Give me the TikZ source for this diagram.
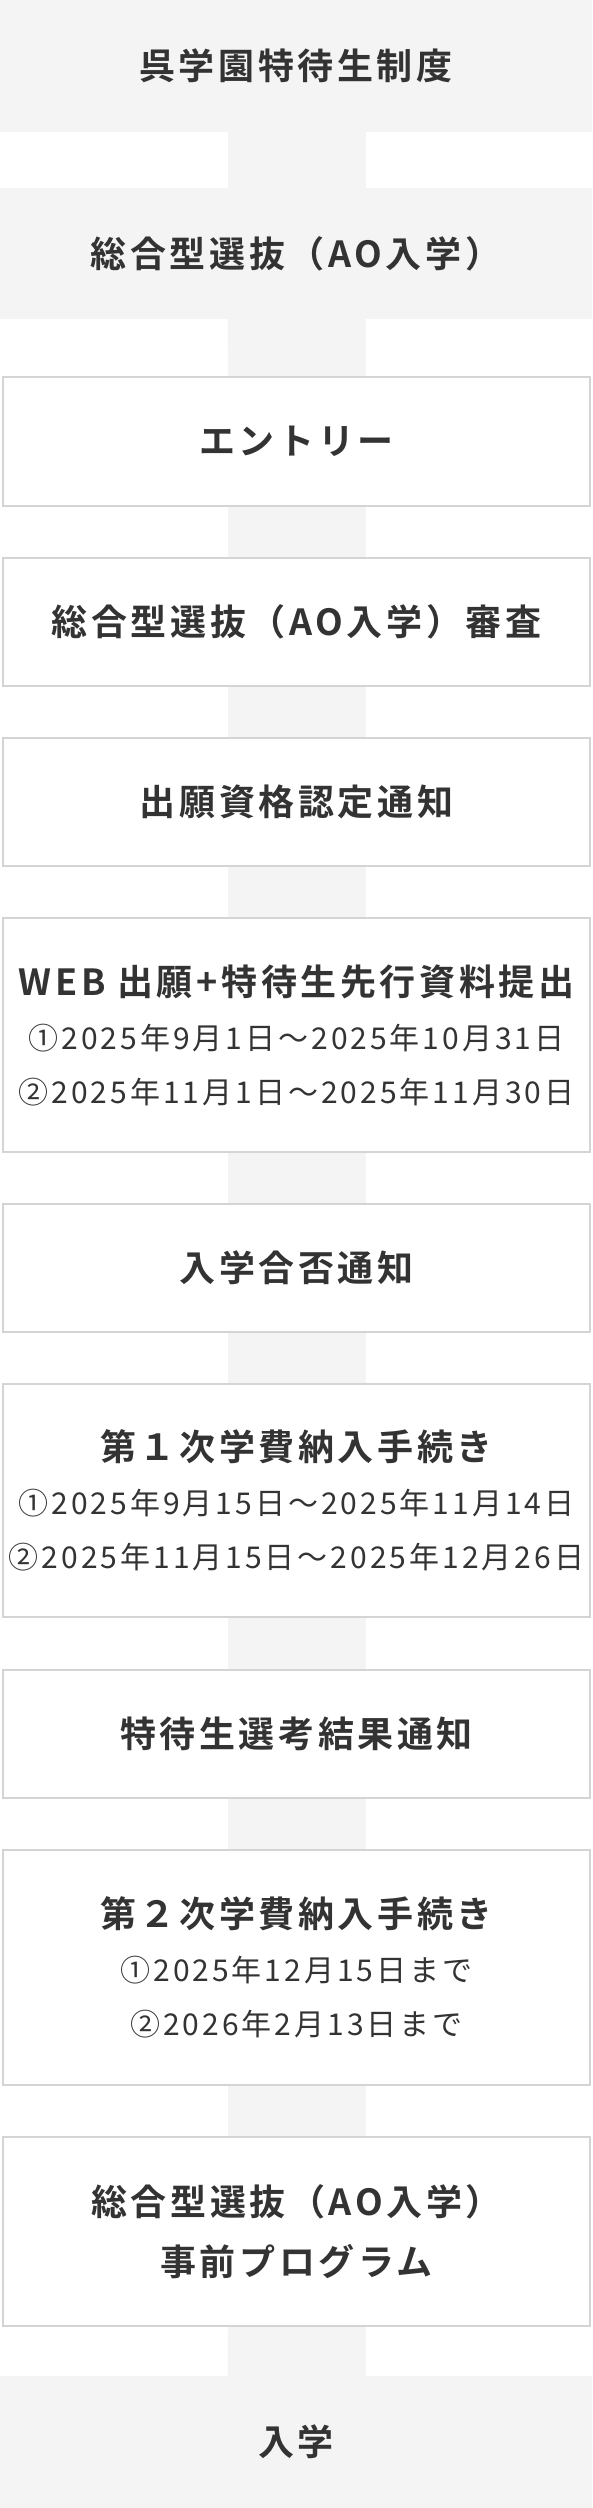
\documentclass[tikz,border=0pt]{standalone}
\usepackage{fontspec}
\setmainfont{Noto Sans CJK JP}[BoldFont={Noto Sans CJK JP Bold}, LetterSpace=10]
\usetikzlibrary{backgrounds}
\definecolor{TextGray}{HTML}{333333}
\definecolor{BoxGray}{HTML}{F4F4F4}
\definecolor{LineGray}{HTML}{D4D4D4}
\newcommand{\TitleFont}{\fontsize{36}{54}\selectfont\bfseries}
\newcommand{\DateFont}{\fontsize{30}{54}\selectfont\mdseries}
\tikzstyle{StepNode}=[rectangle, draw=LineGray, line width=2pt, fill=white, minimum width=587pt, inner sep=0pt, align=center, text=TextGray, font=\TitleFont]
\tikzstyle{FillNode}=[StepNode, draw=none, fill=BoxGray, minimum width=592pt]
\tikzstyle{LinkEdge}=[line width=138pt, BoxGray]

\begin{document}
\begin{tikzpicture}[x=1pt, y=-1pt]
\useasboundingbox (0,0) rectangle (592,2508);
\node[FillNode, minimum height=132pt](SYS) at (296,66) {呉学園特待生制度};
\node[FillNode, minimum height=131pt](AO) at (296,253.5) {総合型選抜（AO入学）};
\node[StepNode, minimum height=129pt](ENTRY) at (296.5,441.5) {エントリー};
\node[StepNode, minimum height=128pt](REVIEW) at (296.5,622) {総合型選抜（AO入学）審査};
\node[StepNode, minimum height=128pt](QUAL) at (296.5,802) {出願資格認定通知};
\node[StepNode, minimum height=234pt](WEB) at (296.5,1035) {WEB 出願+特待生先行資料提出\\
  {\DateFont ①2025年9月1日～2025年10月31日}\\
  {\DateFont ②2025年11月1日～2025年11月30日}};
\node[StepNode, minimum height=128pt](PASS) at (296.5,1268) {入学合否通知};
\node[StepNode, minimum height=233pt](PAY1) at (296.5,1500.5) {第１次学費納入手続き\\
  {\DateFont ①2025年9月15日～2025年11月14日}\\
  {\DateFont ②2025年11月15日～2025年12月26日}};
\node[StepNode, minimum height=128pt](RESULT) at (296.5,1734) {特待生選考結果通知};
\node[StepNode, minimum height=235pt](PAY2) at (296.5,1967.5) {第２次学費納入手続き\\
  {\DateFont ①2025年12月15日まで}\\
  {\DateFont ②2026年2月13日まで}};
\node[StepNode, minimum height=189pt](PROG) at (296.5,2231.5) {総合型選抜（AO入学）\\[6pt]事前プログラム};
\node[FillNode, minimum height=132pt](ENTER) at (296,2442) {入学};

\begin{scope}[on background layer]
\foreach \a/\b in {SYS/AO, AO/ENTRY, ENTRY/REVIEW, REVIEW/QUAL, QUAL/WEB, WEB/PASS, PASS/PAY1, PAY1/RESULT, RESULT/PAY2, PAY2/PROG, PROG/ENTER}
  \draw[LinkEdge]([xshift=0.5pt]\a.center) -- ([xshift=0.5pt]\b.center);
\end{scope}
\end{tikzpicture}
\end{document}
